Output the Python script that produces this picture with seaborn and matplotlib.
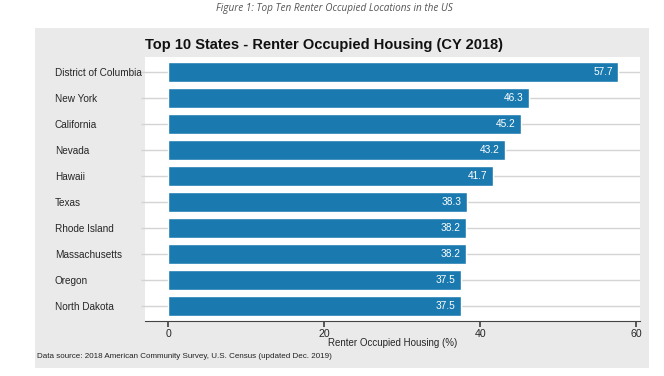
import matplotlib
matplotlib.use("Agg")
import matplotlib.pyplot as plt
import seaborn as sns
import pandas as pd
from matplotlib.patches import Rectangle

states = ["District of Columbia", "New York", "California", "Nevada", "Hawaii",
          "Texas", "Rhode Island", "Massachusetts", "Oregon", "North Dakota"]
values = [57.7, 46.3, 45.2, 43.2, 41.7, 38.3, 38.2, 38.2, 37.5, 37.5]
xticks = [0, 20, 40, 60]

df = pd.DataFrame({"state": states, "value": values})

sns.set_theme(style="white")
plt.rcParams['font.family'] = ['Liberation Sans', 'DejaVu Sans']

W, H = 664, 376
fig = plt.figure(figsize=(W / 100, H / 100), dpi=100)
fig.patch.set_facecolor("white")

# gray graph region
fig.patches.append(Rectangle((35 / W, 1 - 368 / H), (649 - 35) / W, (368 - 28) / H,
                             transform=fig.transFigure, facecolor="#eaeaea",
                             edgecolor="none", zorder=-5))

ax = fig.add_axes([145 / W, 1 - 321 / H, (640 - 145) / W, (321 - 57) / H])
ax.set_zorder(1)
ax.set_facecolor("white")

sns.barplot(data=df, x="value", y="state", orient="h", color="#1a7ab0",
            saturation=1, width=0.77, ax=ax, zorder=3)

for i, v in enumerate(values):
    ax.text(v - 0.7, i, f"{v}", color="white", ha="right", va="center",
            fontsize=7.3, zorder=4)

ax.set_xlim(-2.95, 60.5)
ax.set_ylim(9.58, -0.58)
ax.set_xticks(xticks)
ax.set_xticklabels([str(t) for t in xticks], fontsize=7.6)
ax.yaxis.grid(True, color="#d4d4d4", linewidth=1.0, zorder=1)
ax.xaxis.grid(False)
ax.set_axisbelow(True)
for s in ["top", "right", "left"]:
    ax.spines[s].set_visible(False)
ax.spines["bottom"].set_color("#444444")
ax.spines["bottom"].set_linewidth(0.8)
ax.tick_params(axis="x", length=4, color="#444444", pad=1.5, bottom=True)
ax.tick_params(axis="y", length=3, color="#d4d4d4", width=1.0, left=True, pad=62)
ax.set_yticklabels(states, fontsize=7.2, ha="left")
ax.set_ylabel("")
ax.set_xlabel("Renter Occupied Housing (%)", fontsize=7.0, labelpad=-0.5)

fig.text(324 / W, 1 - 45 / H, "Top 10 States - Renter Occupied Housing (CY 2018)",
         ha="center", va="center", fontsize=10.5, fontweight="bold", color="#111111")
fig.text(334 / W, 1 - 9 / H, "Figure 1: Top Ten Renter Occupied Locations in the US",
         ha="center", va="center", fontsize=7.2, style="italic", color="#555555",
         family=["Open Sans", "DejaVu Sans"])
fig.text(37 / W, 1 - 356 / H,
         "Data source: 2018 American Community Survey, U.S. Census (updated Dec. 2019)",
         ha="left", va="center", fontsize=5.8, color="#222222")

fig.savefig("out.png", dpi=100)
